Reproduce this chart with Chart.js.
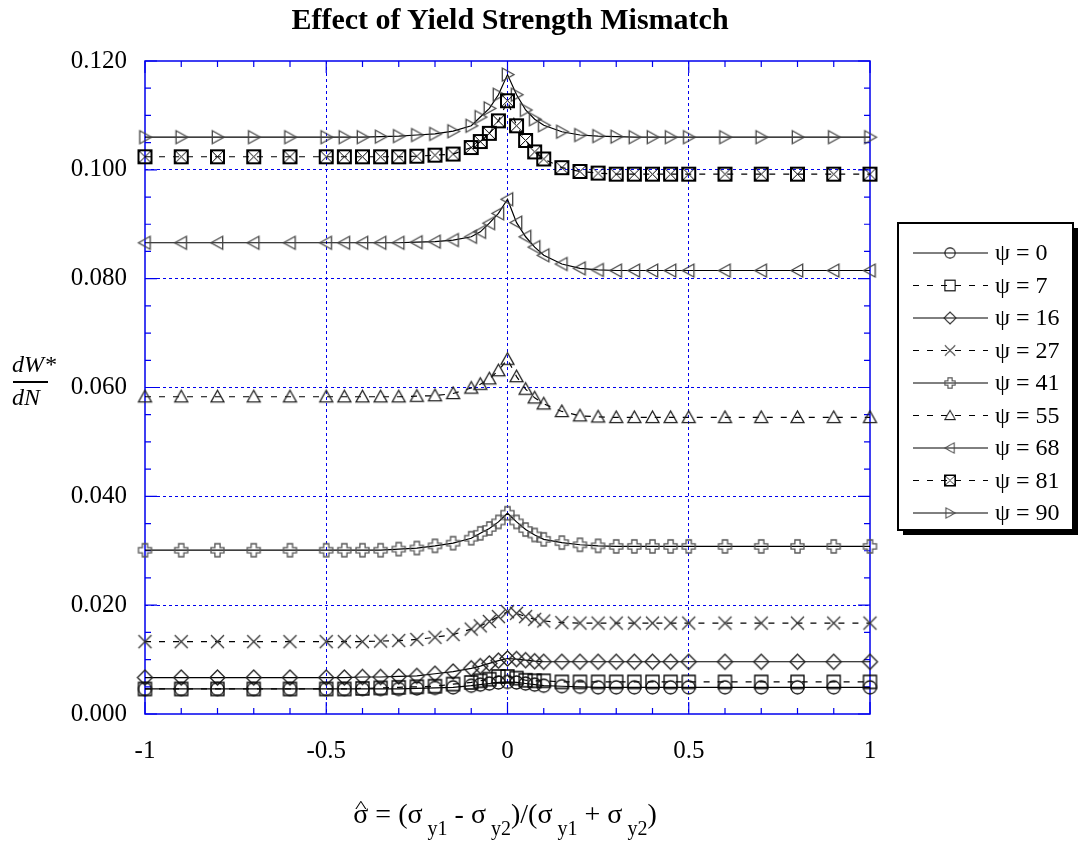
<!DOCTYPE html>
<html>
<head>
<meta charset="utf-8">
<title>Effect of Yield Strength Mismatch</title>
<script src="https://cdn.jsdelivr.net/npm/chart.js@4.4.1/dist/chart.umd.min.js"></script>
<style>
  html, body { margin: 0; padding: 0; background: #fff; }
  #wrap { position: relative; width: 1080px; height: 842px; overflow: hidden; font-family: 'Liberation Serif', 'Times New Roman', serif; color: #000; }
  #chart { position: absolute; left: 0; top: 0; }
  .title { position: absolute; left: 0; width: 1020px; top: 2px; text-align: center; font-weight: bold; font-size: 30px; }
  .xlab { position: absolute; left: 0; width: 1010px; top: 800px; line-height: 28px; text-align: center; font-size: 28px; white-space: nowrap; }
  .xlab sub { font-size: 20px; vertical-align: -12px; margin-left: 5px; line-height: 0; }
  .sh { position: relative; display: inline-block; }
  .hat { position: absolute; left: 0; width: 100%; text-align: center; top: -4px; font-size: 25px; line-height: 20px; transform: scaleY(0.7); }
  .ylab { position: absolute; left: 12px; font-style: italic; font-size: 24px; line-height: 24px; }
  .ybar { position: absolute; left: 13px; top: 381px; width: 35px; height: 2px; background: #000; }
</style>
</head>
<body>
<div id="wrap">
  <canvas id="chart" width="1080" height="842"></canvas>
  <div class="title">Effect of Yield Strength Mismatch</div>
  <div class="ylab" style="top:352px">dW*</div>
  <div class="ybar"></div>
  <div class="ylab" style="top:385px">dN</div>
  <div class="xlab"><span class="sh">&sigma;<span class="hat">^</span></span> = (&sigma;<sub>y1</sub> - &sigma;<sub>y2</sub>)/(&sigma;<sub>y1</sub> + &sigma;<sub>y2</sub>)</div>
</div>
<script>
// normalized mismatch values (x)
const xVals = [-1, -0.9, -0.8, -0.7, -0.6, -0.5, -0.45, -0.4, -0.35, -0.3,
  -0.25, -0.2, -0.15, -0.1, -0.075, -0.05, -0.025,
  0,
  0.025, 0.05, 0.075, 0.1, 0.15, 0.2, 0.25,
  0.3, 0.35, 0.4, 0.45, 0.5, 0.6, 0.7, 0.8, 0.9, 1];

// dW*/dN, one array per psi
const psi0 = [0.0046, 0.0046, 0.0046, 0.0046, 0.0046, 0.0046, 0.0046, 0.0046, 0.0046, 0.0046,
  0.0047, 0.0048, 0.0049, 0.0052, 0.0054, 0.0056, 0.0058,
  0.0059,
  0.0058, 0.0056, 0.0054, 0.0052, 0.0051, 0.0050, 0.0049,
  0.0049, 0.0049, 0.0049, 0.0049, 0.0049, 0.0049, 0.0049, 0.0049, 0.0049, 0.0049];
const psi7 = [0.0046, 0.0046, 0.0046, 0.0046, 0.0046, 0.0046, 0.0046, 0.0047, 0.0048, 0.0049,
  0.0050, 0.0051, 0.0055, 0.0058, 0.0061, 0.0064, 0.0069,
  0.0069,
  0.0066, 0.0062, 0.0061, 0.0061, 0.0059, 0.0059, 0.0059,
  0.0059, 0.0059, 0.0059, 0.0059, 0.0059, 0.0059, 0.0059, 0.0059, 0.0059, 0.0059];
const psi16 = [0.0067, 0.0067, 0.0067, 0.0067, 0.0067, 0.0067, 0.0067, 0.0068, 0.0068, 0.0069,
  0.0070, 0.0074, 0.0078, 0.0084, 0.0088, 0.0093, 0.0098,
  0.0102,
  0.0101, 0.0099, 0.0097, 0.0096, 0.0096, 0.0096, 0.0096,
  0.0096, 0.0096, 0.0096, 0.0096, 0.0096, 0.0096, 0.0096, 0.0096, 0.0096, 0.0096];
const psi27 = [0.0133, 0.0133, 0.0133, 0.0133, 0.0133, 0.0133, 0.0133, 0.0133, 0.0134, 0.0135,
  0.0137, 0.0141, 0.0146, 0.0156, 0.0162, 0.0170, 0.0179,
  0.0188,
  0.0185, 0.0179, 0.0174, 0.0171, 0.0168, 0.0167, 0.0167,
  0.0167, 0.0167, 0.0167, 0.0167, 0.0167, 0.0167, 0.0167, 0.0167, 0.0167, 0.0167];
const psi41 = [0.0301, 0.0301, 0.0301, 0.0301, 0.0301, 0.0301, 0.0301, 0.0301, 0.0301, 0.0303,
  0.0305, 0.0309, 0.0314, 0.0323, 0.0332, 0.0341, 0.0353,
  0.0369,
  0.0353, 0.0339, 0.0329, 0.0321, 0.0315, 0.0311, 0.0309,
  0.0308, 0.0308, 0.0308, 0.0308, 0.0308, 0.0308, 0.0308, 0.0308, 0.0308, 0.0308];
const psi55 = [0.0583, 0.0583, 0.0583, 0.0583, 0.0583, 0.0583, 0.0583, 0.0583, 0.0583, 0.0583,
  0.0584, 0.0585, 0.0589, 0.0599, 0.0606, 0.0616, 0.0631,
  0.0652,
  0.0620, 0.0597, 0.0581, 0.0570, 0.0556, 0.0548, 0.0546,
  0.0545, 0.0545, 0.0545, 0.0545, 0.0545, 0.0545, 0.0545, 0.0545, 0.0545, 0.0545];
const psi68 = [0.0866, 0.0866, 0.0866, 0.0866, 0.0866, 0.0866, 0.0866, 0.0866, 0.0866, 0.0866,
  0.0867, 0.0868, 0.0871, 0.0877, 0.0886, 0.0902, 0.0920,
  0.0946,
  0.0903, 0.0877, 0.0858, 0.0843, 0.0827, 0.0819, 0.0816,
  0.0815, 0.0815, 0.0815, 0.0815, 0.0815, 0.0815, 0.0815, 0.0815, 0.0815, 0.0815];
const psi81 = [0.1024, 0.1024, 0.1024, 0.1024, 0.1024, 0.1024, 0.1024, 0.1024, 0.1024, 0.1024,
  0.1025, 0.1027, 0.1029, 0.1041, 0.1052, 0.1067, 0.1090,
  0.1127,
  0.1081, 0.1054, 0.1033, 0.1020, 0.1004, 0.0997, 0.0994,
  0.0992, 0.0992, 0.0992, 0.0992, 0.0992, 0.0992, 0.0992, 0.0992, 0.0992, 0.0992];
const psi90 = [0.1060, 0.1060, 0.1060, 0.1060, 0.1060, 0.1060, 0.1060, 0.1060, 0.1061, 0.1062,
  0.1064, 0.1066, 0.1071, 0.1081, 0.1097, 0.1113, 0.1138,
  0.1175,
  0.1138, 0.1110, 0.1093, 0.1082, 0.1070, 0.1064, 0.1062,
  0.1061, 0.1060, 0.1060, 0.1060, 0.1060, 0.1060, 0.1060, 0.1060, 0.1060, 0.1060];

const seriesLabels = ['ψ = 0', 'ψ = 7', 'ψ = 16', 'ψ = 27', 'ψ = 41', 'ψ = 55', 'ψ = 68', 'ψ = 81', 'ψ = 90'];
const seriesValues = [psi0, psi7, psi16, psi27, psi41, psi55, psi68, psi81, psi90];
const seriesDashed = [false, true, false, true, false, true, false, true, false];
const seriesMarker = ['circle', 'square', 'diamond', 'xcross', 'plus', 'triUp', 'triLeft', 'boxX', 'triRight'];

const near = (v, step) => Math.abs(v / step - Math.round(v / step)) < 1e-6;

// hollow marker glyphs drawn once into small canvases
function makeMarker(kind, s) {
  const n = Math.ceil(s) + 6;
  const c = document.createElement('canvas');
  c.width = n; c.height = n;
  const g = c.getContext('2d');
  const m = n / 2, h = s / 2;
  g.lineWidth = 1.3;
  g.strokeStyle = '#333';
  g.beginPath();
  const poly = pts => { pts.forEach(([px, py], i) => i ? g.lineTo(m + px, m + py) : g.moveTo(m + px, m + py)); g.closePath(); };
  switch (kind) {
    case 'circle': g.strokeStyle = '#111'; g.arc(m, m, h, 0, Math.PI * 2); break;
    case 'square': g.strokeStyle = '#000'; g.rect(m - h, m - h, s, s); break;
    case 'diamond': g.strokeStyle = '#222'; poly([[0, -h - 1], [h + 1, 0], [0, h + 1], [-h - 1, 0]]); break;
    case 'xcross':
      g.strokeStyle = '#333';
      g.moveTo(m - h, m - h); g.lineTo(m + h, m + h);
      g.moveTo(m + h, m - h); g.lineTo(m - h, m + h);
      break;
    case 'plus': {
      const t = s / 5;
      g.strokeStyle = '#555';
      poly([[-t, -h], [t, -h], [t, -t], [h, -t], [h, t], [t, t], [t, h], [-t, h], [-t, t], [-h, t], [-h, -t], [-t, -t]]);
      break;
    }
    case 'triUp': g.strokeStyle = '#222'; poly([[0, -h], [h, h * 0.8], [-h, h * 0.8]]); break;
    case 'triLeft': g.strokeStyle = '#444'; poly([[-h, 0], [h * 0.8, -h], [h * 0.8, h]]); break;
    case 'triRight': g.strokeStyle = '#444'; poly([[h, 0], [-h * 0.8, -h], [-h * 0.8, h]]); break;
    case 'boxX':
      g.strokeStyle = '#000';
      g.lineWidth = 2;
      g.rect(m - h, m - h, s, s);
      g.stroke();
      g.beginPath();
      g.lineWidth = 1;
      g.moveTo(m - h, m - h); g.lineTo(m + h, m + h);
      g.moveTo(m + h, m - h); g.lineTo(m - h, m + h);
      break;
  }
  g.stroke();
  return c;
}

const datasets = seriesLabels.map((label, i) => ({
  label,
  data: xVals.map((x, k) => ({ x, y: seriesValues[i][k] })),
  borderColor: '#000',
  borderWidth: 1.2,
  borderDash: seriesDashed[i] ? [6, 8] : [],
  pointStyle: makeMarker(seriesMarker[i], 13),
  pointRadius: 6,
  tension: 0,
  fill: false,
  clip: false
}));

// blue frame + inward ticks on all four sides (longer at labelled values)
const plotFrame = {
  id: 'plotFrame',
  beforeDatasetsDraw(chart) {
    const { ctx, chartArea: a, scales: { x, y } } = chart;
    ctx.save();
    ctx.strokeStyle = '#0000ee';
    ctx.lineWidth = 1.5;
    ctx.strokeRect(a.left, a.top, a.right - a.left, a.bottom - a.top);
    ctx.lineWidth = 1.2;
    ctx.beginPath();
    x.ticks.forEach(t => {
      const px = x.getPixelForValue(t.value), len = near(t.value, 0.5) ? 12 : 6;
      ctx.moveTo(px, a.bottom); ctx.lineTo(px, a.bottom - len);
      ctx.moveTo(px, a.top); ctx.lineTo(px, a.top + len);
    });
    y.ticks.forEach(t => {
      const py = y.getPixelForValue(t.value), len = near(t.value, 0.02) ? 12 : 6;
      ctx.moveTo(a.left, py); ctx.lineTo(a.left + len, py);
      ctx.moveTo(a.right, py); ctx.lineTo(a.right - len, py);
    });
    ctx.stroke();
    ctx.restore();
  }
};

// boxed legend with drop shadow on the right
const legendBox = {
  id: 'legendBox',
  afterDraw(chart) {
    const { ctx } = chart;
    const L = 898, T = 223, W = 175, H = 307;
    ctx.save();
    ctx.fillStyle = '#000';
    ctx.fillRect(L + 5, T + 5, W, H);
    ctx.fillStyle = '#fff';
    ctx.fillRect(L, T, W, H);
    ctx.lineWidth = 2;
    ctx.strokeStyle = '#000';
    ctx.strokeRect(L, T, W, H);
    ctx.font = "24px 'Liberation Serif', serif";
    ctx.textBaseline = 'middle';
    chart.data.datasets.forEach((ds, i) => {
      const yy = T + 30 + i * 32.5;
      ctx.beginPath();
      ctx.setLineDash(ds.borderDash);
      ctx.lineWidth = 1;
      ctx.strokeStyle = '#000';
      ctx.moveTo(913, yy); ctx.lineTo(988, yy);
      ctx.stroke();
      ctx.setLineDash([]);
      const img = ds.pointStyle, s = img.width * 0.8;
      ctx.drawImage(img, 950 - s / 2, yy - s / 2, s, s);
      ctx.fillStyle = '#000';
      ctx.fillText(ds.label, 995, yy + 1);
    });
    ctx.restore();
  }
};

const tickFont = { family: "'Liberation Serif', serif", size: 25 };

new Chart(document.getElementById('chart'), {
  type: 'line',
  data: { datasets },
  options: {
    responsive: false,
    animation: false,
    layout: { padding: { top: 61, right: 210, left: 0, bottom: 0 } },
    plugins: { legend: { display: false }, tooltip: { enabled: false } },
    scales: {
      x: {
        type: 'linear', min: -1, max: 1,
        afterFit: s => { s.height = 128; },
        ticks: {
          stepSize: 0.1, autoSkip: false, maxRotation: 0, padding: 22, color: '#000', font: tickFont,
          callback: v => near(v, 0.5) ? String(Math.round(v * 10) / 10) : ''
        },
        grid: {
          drawTicks: false, lineWidth: 1,
          color: c => (c.tick && near(c.tick.value, 0.5) && Math.abs(c.tick.value) < 0.99) ? '#0000ee' : 'transparent'
        },
        border: { display: false, dash: [3, 3] }
      },
      y: {
        type: 'linear', min: 0, max: 0.12,
        afterFit: s => { s.width = 145; },
        ticks: {
          stepSize: 0.005, autoSkip: false, padding: 18, color: '#000', font: tickFont,
          callback: v => near(v, 0.02) ? v.toFixed(3) : ''
        },
        grid: {
          drawTicks: false, lineWidth: 1,
          color: c => (c.tick && near(c.tick.value, 0.02) && c.tick.value > 0.001 && c.tick.value < 0.119) ? '#0000ee' : 'transparent'
        },
        border: { display: false, dash: [3, 3] }
      }
    }
  },
  plugins: [plotFrame, legendBox]
});
</script>
</body>
</html>
